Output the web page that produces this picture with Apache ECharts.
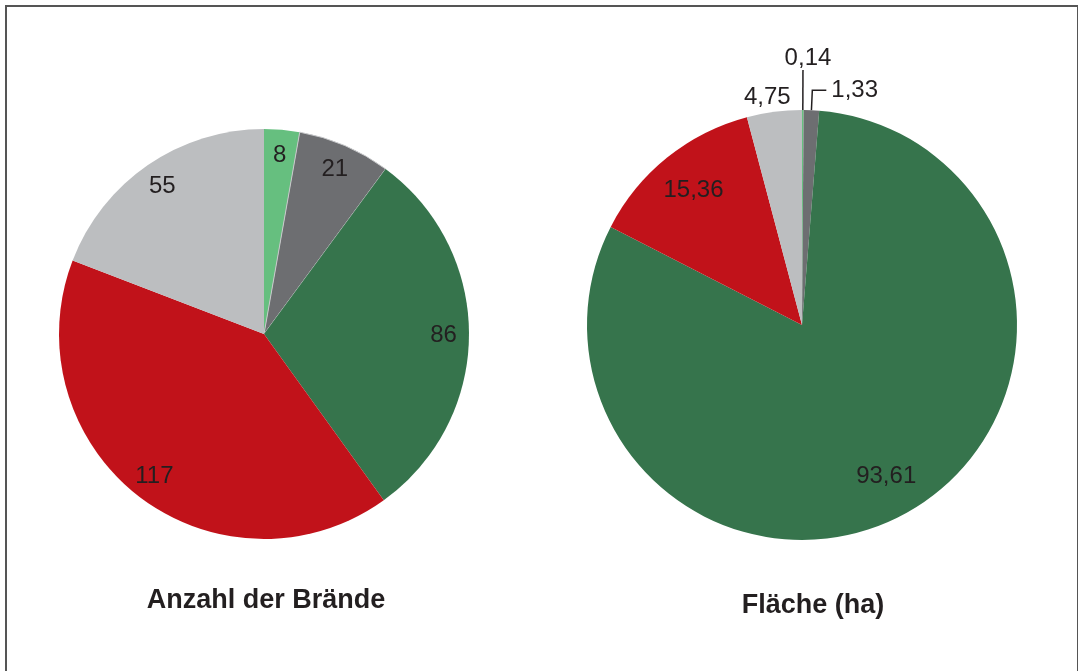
<!DOCTYPE html>
<html>
<head>
<meta charset="utf-8">
<script src="https://cdn.jsdelivr.net/npm/echarts@6/dist/echarts.min.js"></script>
<style>
  html, body { margin: 0; padding: 0; background: #fff; }
  #frame {
    position: absolute; left: 5px; top: 5px; width: 1070px; height: 700px;
    border: 2px solid #555; border-bottom: none;
  }
  #chart { position: absolute; left: 0; top: 0; width: 1078px; height: 671px; }
</style>
</head>
<body>
<div id="frame"></div>
<div id="chart"></div>
<script>
// Kategorien (Reihenfolge im Uhrzeigersinn ab 12 Uhr)
const categories = ['A', 'B', 'C', 'D', 'E']
const colors = ['#66bf7f', '#6d6e71', '#36744c', '#c1121a', '#bcbec0']

// Anzahl der Brände
const anzahl = [8, 21, 86, 117, 55]
// Fläche (ha)
const flaeche = [0.14, 1.33, 93.61, 15.36, 4.75]

const titles = ['Anzahl der Brände', 'Fläche (ha)']

const textColor = '#231f20'
const fontFamily = "'Liberation Sans', Arial, sans-serif"

const fmt = (v, dec) => dec ? v.toFixed(dec).replace('.', ',') : String(v)

const makeData = (values, extra) => values.map((v, i) => Object.assign({
  name: categories[i],
  value: v,
  itemStyle: { color: colors[i] }
}, extra ? extra(i) : {}))

const chart = echarts.init(document.getElementById('chart'))

// Beschriftungen außen (rechts) für die kleinen Segmente
const outerLabel = (i) => {
  if (i === 0) return {
    label: { show: true, position: 'outside' },
    labelLine: { show: true, length: 40, length2: 0 }
  }
  if (i === 1) return {
    label: { show: true, position: 'outside' },
    labelLine: { show: true, length: 20, length2: 14 }
  }
  if (i === 4) return {
    label: { show: true, position: 'outside' },
    labelLine: { show: false, length: 15, length2: 0 }
  }
  return { label: { show: false }, labelLine: { show: false } }
}

const labelStyle = {
  color: textColor,
  fontSize: 24,
  fontFamily: fontFamily
}

chart.setOption({
  animation: false,
  title: [
    {
      text: titles[0], left: 266, top: 587, textAlign: 'center', padding: 0,
      textStyle: { fontSize: 27, fontWeight: 'bold', color: textColor, fontFamily: fontFamily, lineHeight: 27 }
    },
    {
      text: titles[1], left: 813, top: 592, textAlign: 'center', padding: 0,
      textStyle: { fontSize: 27, fontWeight: 'bold', color: textColor, fontFamily: fontFamily, lineHeight: 27 }
    }
  ],
  series: [
    // linker Kreis
    {
      type: 'pie',
      center: [264, 334],
      radius: 205,
      silent: true,
      label: { show: false },
      labelLine: { show: false },
      data: makeData(anzahl, (i) => i === 1
        ? { itemStyle: { color: colors[i], borderColor: '#c8c9cb', borderWidth: 1 } }
        : {})
    },
    {
      type: 'pie',
      center: [264, 334],
      radius: [148, 205],
      silent: true,
      itemStyle: { color: 'transparent' },
      label: Object.assign({ show: true, position: 'inside', formatter: (p) => fmt(p.value, 0) }, labelStyle),
      labelLine: { show: false },
      data: anzahl.map((v, i) => ({ name: categories[i], value: v }))
    },
    // rechter Kreis
    {
      type: 'pie',
      center: [802, 325],
      radius: 215,
      silent: true,
      avoidLabelOverlap: false,
      label: Object.assign({ formatter: (p) => fmt(p.value, 2), distanceToLabelLine: 5 }, labelStyle),
      labelLine: { lineStyle: { color: textColor, width: 1.5 } },
      labelLayout: (p) => {
        if (p.dataIndex === 0) return { align: 'center', verticalAlign: 'bottom' }
        if (p.dataIndex === 4) return { align: 'center' }
      },
      data: makeData(flaeche, outerLabel)
    },
    {
      type: 'pie',
      center: [802, 325],
      radius: [125, 215],
      silent: true,
      itemStyle: { color: 'transparent' },
      labelLine: { show: false },
      label: Object.assign({ position: 'inside', formatter: (p) => fmt(p.value, 2) }, labelStyle),
      data: flaeche.map((v, i) => ({
        name: categories[i],
        value: v,
        label: { show: i === 2 || i === 3 }
      }))
    }
  ]
})
</script>
</body>
</html>
